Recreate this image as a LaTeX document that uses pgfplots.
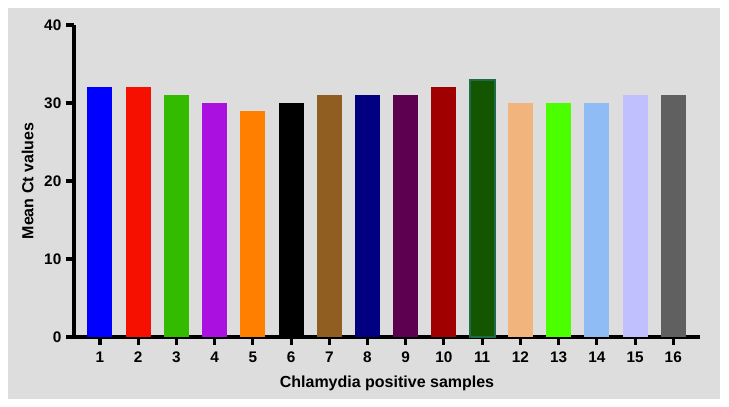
\documentclass[border=0pt]{standalone}
\usepackage{pgfplots}
\pgfplotsset{compat=1.18}
\usepackage{fontspec}
\setmainfont{Liberation Sans}
\definecolor{bg}{HTML}{DDDDDD}
\definecolor{c1}{HTML}{0000FF}
\definecolor{c2}{HTML}{F51000}
\definecolor{c3}{HTML}{33BB00}
\definecolor{c4}{HTML}{AA10E0}
\definecolor{c5}{HTML}{FF8000}
\definecolor{c6}{HTML}{000000}
\definecolor{c7}{HTML}{8F5E20}
\definecolor{c8}{HTML}{000080}
\definecolor{c9}{HTML}{5E0050}
\definecolor{c10}{HTML}{A00000}
\definecolor{c11}{HTML}{145500}
\definecolor{c11b}{HTML}{1E6B48}
\definecolor{c12}{HTML}{F0B47C}
\definecolor{c13}{HTML}{4CFF00}
\definecolor{c14}{HTML}{8FBCF5}
\definecolor{c15}{HTML}{C0C0FF}
\definecolor{c16}{HTML}{606060}
\begin{document}
\begin{tikzpicture}
\useasboundingbox (0,0) rectangle (546.75pt,305.25pt);
\fill[white] (0,0) rectangle (546.75pt,305.25pt);
\fill[bg] (6pt,6pt) rectangle (540pt,299.25pt);
\begin{axis}[
  at={(55.5pt,52.5pt)}, anchor=south west,
  scale only axis,
  width=469.5pt, height=234pt,
  xmin=0.32, xmax=16.7,
  ymin=0, ymax=40,
  axis lines=left,
  axis line style={-, line width=2.3pt},
  every tick/.style={line width=2.3pt, black},
  tick align=outside,
  major tick length=6pt,
  xtick={1,...,16},
  ytick={0,10,20,30,40},
  /pgf/number format/assume math mode=true,
  ticklabel style={font=\fontsize{11.5}{13}\selectfont\bfseries},
  xticklabel style={yshift=-1.5pt},
  xlabel={Chlamydia positive samples},
  ylabel={Mean Ct values},
  label style={font=\fontsize{12}{14}\selectfont\bfseries},
  xlabel style={at={(axis description cs:0.5,-0.15)}, anchor=center},
  ylabel style={at={(axis description cs:-0.074,0.5)}, anchor=center},
  ybar, bar width=18.75pt,
  every axis plot/.append style={bar shift=0pt, draw=none},
  clip=false,
]
\addplot[fill=c1] coordinates {(1,32)};
\addplot[fill=c2] coordinates {(2,32)};
\addplot[fill=c3] coordinates {(3,31)};
\addplot[fill=c4] coordinates {(4,30)};
\addplot[fill=c5] coordinates {(5,29)};
\addplot[fill=c6] coordinates {(6,30)};
\addplot[fill=c7] coordinates {(7,31)};
\addplot[fill=c8] coordinates {(8,31)};
\addplot[fill=c9] coordinates {(9,31)};
\addplot[fill=c10] coordinates {(10,32)};
\addplot[fill=c11, draw=c11b, line width=1.5pt] coordinates {(11,32.9)};
\addplot[fill=c12] coordinates {(12,30)};
\addplot[fill=c13] coordinates {(13,30)};
\addplot[fill=c14] coordinates {(14,30)};
\addplot[fill=c15] coordinates {(15,31)};
\addplot[fill=c16] coordinates {(16,31)};
\end{axis}
\end{tikzpicture}
\end{document}
